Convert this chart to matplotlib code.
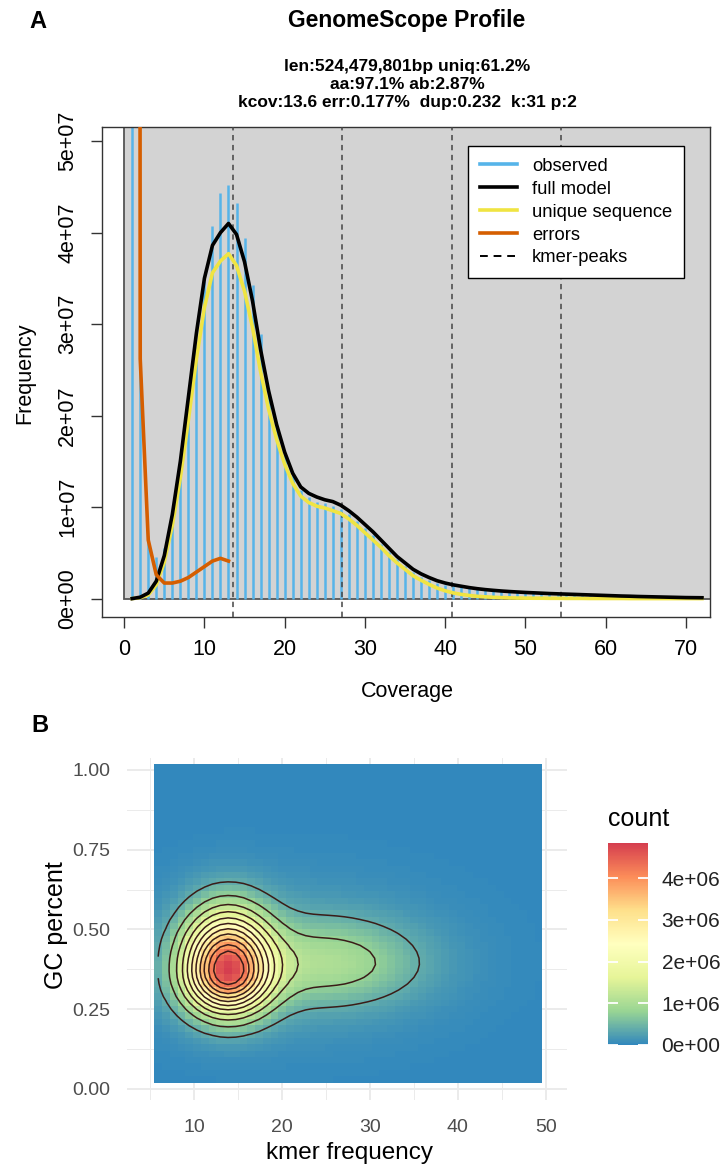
import matplotlib
matplotlib.use("Agg")
import matplotlib.pyplot as plt
import numpy as np
from matplotlib.patches import Rectangle
from matplotlib.colors import LinearSegmentedColormap, Normalize

plt.rcParams['font.family'] = ['Liberation Sans', 'DejaVu Sans']

# ── Panel A data: GenomeScope k-mer profile (frequency in units of 1e7) ──
coverage = list(range(1, 73))
observed = [130.0, 2.65, 0.68, 0.45, 0.55, 0.85, 1.37, 2.0, 2.75, 3.47,
            4.07, 4.43, 4.52, 4.32, 3.94, 3.43, 2.89, 2.25, 1.88, 1.58,
            1.35, 1.19, 1.11, 1.06, 1.04, 1.01, 0.98, 0.92, 0.85, 0.77,
            0.69, 0.60, 0.51, 0.43, 0.36, 0.29, 0.24, 0.20, 0.17, 0.15,
            0.135, 0.125, 0.115, 0.105, 0.097, 0.090, 0.084, 0.079, 0.074, 0.069,
            0.065, 0.061, 0.058, 0.055, 0.052, 0.049, 0.046, 0.043, 0.040, 0.037,
            0.034, 0.031, 0.029, 0.027, 0.025, 0.023, 0.021, 0.019, 0.017, 0.015,
            0.014, 0.013]
full_model = [0.0, 0.015, 0.06, 0.19, 0.47, 0.92, 1.5, 2.2, 2.9, 3.5,
              3.86, 4.0, 4.1, 3.98, 3.68, 3.25, 2.72, 2.27, 1.9, 1.6,
              1.37, 1.22, 1.15, 1.11, 1.08, 1.06, 1.02, 0.96, 0.89, 0.81,
              0.73, 0.64, 0.55, 0.46, 0.39, 0.32, 0.27, 0.23, 0.195, 0.17,
              0.15, 0.135, 0.12, 0.108, 0.098, 0.090, 0.083, 0.077, 0.072, 0.067,
              0.063, 0.059, 0.055, 0.052, 0.049, 0.046, 0.043, 0.040, 0.037, 0.034,
              0.031, 0.028, 0.026, 0.023, 0.021, 0.019, 0.017, 0.015, 0.013, 0.011,
              0.010, 0.009]
unique_seq = [0.0, 0.01, 0.04, 0.15, 0.40, 0.80, 1.32, 1.95, 2.62, 3.18,
              3.56, 3.69, 3.77, 3.64, 3.36, 2.96, 2.48, 2.07, 1.74, 1.47,
              1.26, 1.12, 1.05, 1.01, 0.99, 0.96, 0.93, 0.87, 0.80, 0.72,
              0.64, 0.56, 0.47, 0.39, 0.32, 0.25, 0.20, 0.155, 0.115, 0.085,
              0.062, 0.046, 0.034, 0.025, 0.019, 0.014, 0.011, 0.008, 0.006, 0.005,
              0.004, 0.004, 0.003, 0.003, 0.002, 0.002, 0.002, 0.001, 0.001, 0.001,
              0.001, 0.001, 0.0, 0.0, 0.0, 0.0, 0.0, 0.0, 0.0, 0.0,
              0.0, 0.0]
error_cov = list(range(1, 14))
errors = [130.0, 2.62, 0.64, 0.26, 0.17, 0.17, 0.19, 0.23, 0.29, 0.35, 0.41, 0.44, 0.41]
kmer_peaks = [13.6, 27.2, 40.8, 54.4]

title_a = 'GenomeScope Profile'
subtitle_lines = ['len:524,479,801bp uniq:61.2%',
                  'aa:97.1% ab:2.87%',
                  'kcov:13.6 err:0.177%  dup:0.232  k:31 p:2']

# ── Panel B data: k-mer frequency vs GC density (blob parameters) ──
blob_x = [13.8, 25.5, 21.0]
blob_y = [0.371, 0.395, 0.40]
blob_sx = [3.3, 6.8, 12.0]
blob_sy_low = [0.09, 0.085, 0.16]
blob_sy_high = [0.12, 0.09, 0.17]
blob_count = [4.43e6, 0.75e6, 0.30e6]
raster_x = (5.5, 49.6)
raster_y = (0.02, 1.02)
contour_step = 3.9e5
spectral = ['#3288BD', '#99D594', '#E6F598', '#FFFFBF', '#FEE08B', '#FC8D59', '#D53E4F']
cbar_ticks = [0, 1e6, 2e6, 3e6, 4e6]
cbar_labels = ['0e+00', '1e+06', '2e+06', '3e+06', '4e+06']

W, H = 723, 1169
fig = plt.figure(figsize=(7.23, 11.69), dpi=100)


def fx(px):
    return px / W


def fy(py):
    return 1 - py / H


# ── Panel A ──
s = 1e7
axA = fig.add_axes([fx(101.7), fy(616.7), fx(710 - 101.7), (616.7 - 127.3) / H])
axA.set_xlim(-2.8, 73.0)
axA.set_ylim(-0.198 * s, 5.151 * s)
axA.add_patch(Rectangle((0, 0), 200, 1e9, facecolor='#D3D3D3', edgecolor='#555555',
                        linewidth=1.3, zorder=0))
axA.vlines(coverage, 0, np.array(observed) * s, color='#56B4E9', linewidth=1.8, zorder=2)
for p in kmer_peaks:
    axA.axvline(p, color='#444444', linestyle=(0, (3.5, 3)), linewidth=1.1, zorder=3)
axA.plot(coverage, np.array(unique_seq) * s, color='#F0E442', linewidth=2.6, zorder=4)
axA.plot(coverage, np.array(full_model) * s, color='black', linewidth=2.6, zorder=5)
axA.plot(error_cov, np.array(errors) * s, color='#D55E00', linewidth=2.6, zorder=6)

axA.set_xticks(range(0, 71, 10))
axA.set_yticks([i * s for i in range(6)],
               labels=['0e+00', '1e+07', '2e+07', '3e+07', '4e+07', '5e+07'])
axA.tick_params(axis='both', direction='out', length=8, width=1, color='#333333',
                labelsize=15.5)
axA.tick_params(axis='x', pad=8)
axA.tick_params(axis='y', pad=9)
for lab in axA.get_yticklabels():
    lab.set_rotation(90)
    lab.set_va('center')
for sp in axA.spines.values():
    sp.set_color('#333333')
    sp.set_linewidth(1)

handles = [plt.Line2D([], [], color='#56B4E9', lw=2.6),
           plt.Line2D([], [], color='black', lw=2.6),
           plt.Line2D([], [], color='#F0E442', lw=2.6),
           plt.Line2D([], [], color='#D55E00', lw=2.6),
           plt.Line2D([], [], color='black', lw=1.4, linestyle=(0, (4, 3)))]
leg = axA.legend(handles, ['observed', 'full model', 'unique sequence', 'errors', 'kmer-peaks'],
                 loc='upper left', bbox_to_anchor=(fx(468), fy(146)),
                 bbox_transform=fig.transFigure, borderaxespad=0, fontsize=13.2,
                 handlelength=2.0, handletextpad=0.85, labelspacing=0.32,
                 borderpad=0.65, fancybox=False, framealpha=1)
leg.get_frame().set_edgecolor('black')
leg.get_frame().set_linewidth(1)

fig.text(fx(407), fy(21), title_a, ha='center', va='center', fontsize=16.5, fontweight='bold')
for i, line in enumerate(subtitle_lines):
    fig.text(fx(407), fy(67 + 17.5 * i), line, ha='center', va='center',
             fontsize=12.5, fontweight='bold')
fig.text(fx(25), fy(373), 'Frequency', rotation=90, ha='center', va='center', fontsize=15.5)
fig.text(fx(407), fy(692), 'Coverage', ha='center', va='center', fontsize=15.5)
fig.text(fx(38), fy(21), 'A', ha='center', va='center', fontsize=17, fontweight='bold')

# ── Panel B ──
nx, ny = 50, 50
x_edges = np.linspace(raster_x[0], raster_x[1], nx + 1)
y_edges = np.linspace(raster_y[0], raster_y[1], ny + 1)
xc = (x_edges[:-1] + x_edges[1:]) / 2
yc = (y_edges[:-1] + y_edges[1:]) / 2
X, Y = np.meshgrid(xc, yc)
Z = np.zeros_like(X)
for bx, by, sx, syl, syh, amp in zip(blob_x, blob_y, blob_sx, blob_sy_low, blob_sy_high, blob_count):
    sy = np.where(Y < by, syl, syh)
    Z += amp * np.exp(-((X - bx) ** 2) / (2 * sx ** 2) - ((Y - by) ** 2) / (2 * sy ** 2))

cmap = LinearSegmentedColormap.from_list('spectral_gg', spectral)
norm = Normalize(vmin=0, vmax=Z.max())

axB = fig.add_axes([fx(127), fy(1100), fx(440), 342 / H])
axB.set_xlim(2.4, 52.4)
axB.set_ylim(-0.0345, 1.0376)
for v in [5, 15, 25, 35, 45]:
    axB.axvline(v, color='#EBEBEB', linewidth=0.7, zorder=0)
for v in [0.125, 0.375, 0.625, 0.875]:
    axB.axhline(v, color='#EBEBEB', linewidth=0.7, zorder=0)
for v in [10, 20, 30, 40, 50]:
    axB.axvline(v, color='#EBEBEB', linewidth=1.4, zorder=0)
for v in [0, 0.25, 0.5, 0.75, 1.0]:
    axB.axhline(v, color='#EBEBEB', linewidth=1.4, zorder=0)
mesh = axB.pcolormesh(x_edges, y_edges, Z, cmap=cmap, norm=norm, shading='flat', zorder=1)
axB.contour(X, Y, Z, levels=contour_step * np.arange(1, 12), colors='#3a1c18',
            linewidths=1.1, zorder=2)
for sp in axB.spines.values():
    sp.set_visible(False)
axB.set_xticks([10, 20, 30, 40, 50])
axB.set_yticks([0, 0.25, 0.5, 0.75, 1.0], labels=['0.00', '0.25', '0.50', '0.75', '1.00'])
axB.tick_params(axis='both', length=0, labelsize=14, labelcolor='#4D4D4D')
axB.tick_params(axis='x', pad=14)
axB.tick_params(axis='y', pad=12)
fig.text(fx(56), fy(925), 'GC percent', rotation=90, ha='center', va='center', fontsize=18)
fig.text(fx(349), fy(1153), 'kmer frequency', ha='center', va='center', fontsize=17.5)
fig.text(fx(40), fy(725), 'B', ha='center', va='center', fontsize=17, fontweight='bold')

cax = fig.add_axes([fx(607.7), fy(1045), fx(40), 202 / H])
cb = fig.colorbar(mesh, cax=cax)
cb.outline.set_visible(False)
cb.set_ticks(cbar_ticks, labels=cbar_labels)
cax.yaxis.set_ticks_position('both')
cax.tick_params(axis='y', direction='in', length=7, width=1.3, color='white',
                labelsize=15, labelcolor='#222222', pad=10, labelleft=False, labelright=True)
fig.text(fx(608), fy(819), 'count', ha='left', va='center', fontsize=18)

plt.savefig('out.png', dpi=100)
